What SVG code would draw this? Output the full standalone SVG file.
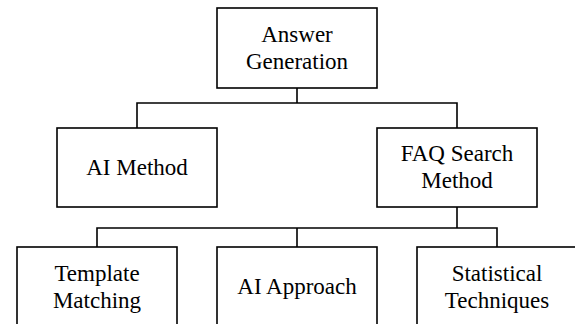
<svg xmlns="http://www.w3.org/2000/svg" width="575" height="324" viewBox="0 0 575 324">
<style>
.box{fill:#fff;stroke:#000;stroke-width:1.6}
.conn{fill:none;stroke:#000;stroke-width:1.6}
.t{font-family:'Liberation Serif','Times New Roman','DejaVu Serif',serif;font-size:23px;fill:#000;text-anchor:middle}
</style>
<rect width="575" height="324" fill="#fff"/>
<g id="connectors">
<path class="conn" d="M297 88V103M137 128V103H457V128"/>
<path class="conn" d="M457 207V228M97 247V228H497V247M297 228V247"/>
</g>
<g id="answer-generation">
<rect class="box" x="217" y="8" width="160" height="80"/>
<text class="t" font-family="Liberation Serif, serif" x="297" y="42">Answer</text>
<text class="t" font-family="Liberation Serif, serif" x="297" y="69">Generation</text>
</g>
<g id="ai-method">
<rect class="box" x="57" y="128" width="160" height="79"/>
<text class="t" font-family="Liberation Serif, serif" x="137" y="175">AI Method</text>
</g>
<g id="faq-search-method">
<rect class="box" x="377" y="128" width="160" height="79"/>
<text class="t" font-family="Liberation Serif, serif" x="457" y="161">FAQ Search</text>
<text class="t" font-family="Liberation Serif, serif" x="457" y="188">Method</text>
</g>
<g id="template-matching">
<rect class="box" x="17" y="247" width="160" height="85"/>
<text class="t" font-family="Liberation Serif, serif" x="97" y="281">Template</text>
<text class="t" font-family="Liberation Serif, serif" x="97" y="308">Matching</text>
</g>
<g id="ai-approach">
<rect class="box" x="217" y="247" width="160" height="85"/>
<text class="t" font-family="Liberation Serif, serif" x="297" y="294">AI Approach</text>
</g>
<g id="statistical-techniques">
<rect class="box" x="417" y="247" width="160" height="85"/>
<text class="t" font-family="Liberation Serif, serif" x="497" y="281">Statistical</text>
<text class="t" font-family="Liberation Serif, serif" x="497" y="308">Techniques</text>
</g>
</svg>
